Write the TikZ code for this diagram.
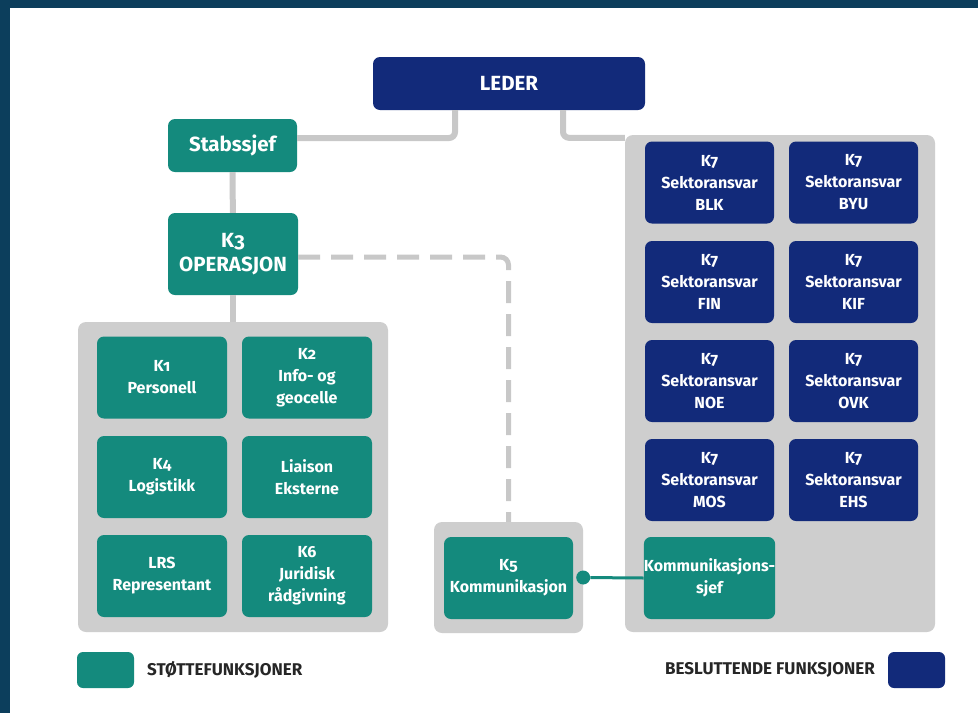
\documentclass[tikz,border=0pt]{standalone}
\usepackage{fontspec}
\setmainfont{Fira Sans}[Numbers=OldStyle]
\usepackage{tikz}
\usetikzlibrary{calc}
\definecolor{stottegreen}{RGB}{20,138,125}
\definecolor{ledernavy}{RGB}{18,42,122}
\definecolor{panelgrey}{RGB}{206,206,206}
\definecolor{linegrey}{RGB}{200,200,200}
\definecolor{framecol}{RGB}{12,62,92}
\tikzstyle{panel} = [rectangle, rounded corners=8pt, fill=panelgrey, inner sep=0pt]
\tikzstyle{fn} = [rectangle, rounded corners=7pt, inner sep=0pt, text=white, align=center, font=\bfseries\fontsize{16}{22}\selectfont, minimum width=130pt, minimum height=82pt]
\tikzstyle{stotte} = [fn, fill=stottegreen]
\tikzstyle{beslutt} = [fn, fill=ledernavy]
\tikzstyle{headbox} = [font=\bfseries\fontsize{20.5}{24}\selectfont]
\tikzstyle{conn} = [draw=linegrey, line width=6pt, rounded corners=6pt]
\tikzstyle{dashconn} = [draw=linegrey, line width=5pt, dash pattern=on 22pt off 11pt, rounded corners=8pt]
\tikzstyle{legendbox} = [rectangle, rounded corners=6pt, minimum width=57pt, minimum height=36pt, inner sep=0pt]
\tikzstyle{legendtext} = [font=\bfseries\fontsize{17}{20}\selectfont, text=black!85, inner sep=0pt]
\tikzstyle{dot} = [circle, fill=stottegreen, minimum size=14pt, inner sep=0pt]

\begin{document}
\begin{tikzpicture}[x=1pt, y=-1pt]
    \useasboundingbox (0,0) rectangle (978,713);
    \fill[white] (0,0) rectangle (978,713);
    \fill[framecol] (0,0) rectangle (978,8);
    \fill[framecol] (0,0) rectangle (10,713);
    % panels
    \node (stottepanel) [panel, minimum width=310pt, minimum height=310pt] at (233,477) {};
    \node (kompanel) [panel, minimum width=149pt, minimum height=111pt] at (508.5,577.5) {};
    \node (sektor) [panel, minimum width=310pt, minimum height=497pt] at (780,383.5) {};
    % top
    \node (leder) [beslutt, headbox, minimum width=272pt, minimum height=53pt] at (509,83.5) {LEDER};
    \node (stab) [stotte, headbox, minimum width=129pt, minimum height=53pt] at (232.5,145.5) {Stabssjef};
    \node (ops) [stotte, headbox] at (233,254) {K3\\OPERASJON};
    % support functions
    \node (k1) [stotte] at (162,377.5) {K1\\Personell};
    \node (k2) [stotte] at (307,377.5) {K2\\Info- og\\geocelle};
    \node (k4) [stotte] at (162,477) {K4\\Logistikk};
    \node (liaison) [stotte] at (307,477) {Liaison\\Eksterne};
    \node (lrs) [stotte] at (162,576) {LRS\\Representant};
    \node (k6) [stotte] at (307,576) {K6\\Juridisk\\rådgivning};
    \node (k5) [stotte, minimum width=129pt] at (508.5,578) {K5\\Kommunikasjon};
    % sector functions
    \node (blk) [beslutt, minimum width=129pt] at (709.5,182.5) {K7\\Sektoransvar\\BLK};
    \node (byu) [beslutt, minimum width=129pt] at (853.5,182.5) {K7\\Sektoransvar\\BYU};
    \node (fin) [beslutt, minimum width=129pt] at (709.5,282) {K7\\Sektoransvar\\FIN};
    \node (kif) [beslutt, minimum width=129pt] at (853.5,282) {K7\\Sektoransvar\\KIF};
    \node (noe) [beslutt, minimum width=129pt] at (709.5,381) {K7\\Sektoransvar\\NOE};
    \node (ovk) [beslutt, minimum width=129pt] at (853.5,381) {K7\\Sektoransvar\\OVK};
    \node (mos) [beslutt, minimum width=129pt] at (709.5,480) {K7\\Sektoransvar\\MOS};
    \node (ehs) [beslutt, minimum width=129pt] at (853.5,480) {K7\\Sektoransvar\\EHS};
    \node (ksjef) [stotte, minimum width=129pt] at (709.5,578) {Kommunikasjons-\\sjef};
    % connectors
    \draw[conn] ([xshift=-54pt]leder.south) |- ([yshift=7.5pt]stab.east);
    \draw[conn] ([xshift=54pt]leder.south) |- ([yshift=-3pt]sektor.north west);
    \draw[conn] (stab) -- (ops);
    \draw[conn] (ops) -- (stottepanel);
    \draw[dashconn] ([yshift=-3pt]ops.east) -| (kompanel.north);
    \node (kdot) [dot] at (kompanel.east) {};
    \draw[stottegreen, line width=3pt] (kdot) -- (ksjef.west);
    % legend
    \node (legstotte) [legendbox, fill=stottegreen] at (105.5,670) {};
    \node (legstottetxt) [legendtext, anchor=west] at (147,670) {STØTTEFUNKSJONER};
    \node (legbeslutt) [legendbox, fill=ledernavy] at (916.5,670) {};
    \node (legbesluttxt) [legendtext, anchor=east] at (875,670) {BESLUTTENDE FUNKSJONER};
\end{tikzpicture}
\end{document}
